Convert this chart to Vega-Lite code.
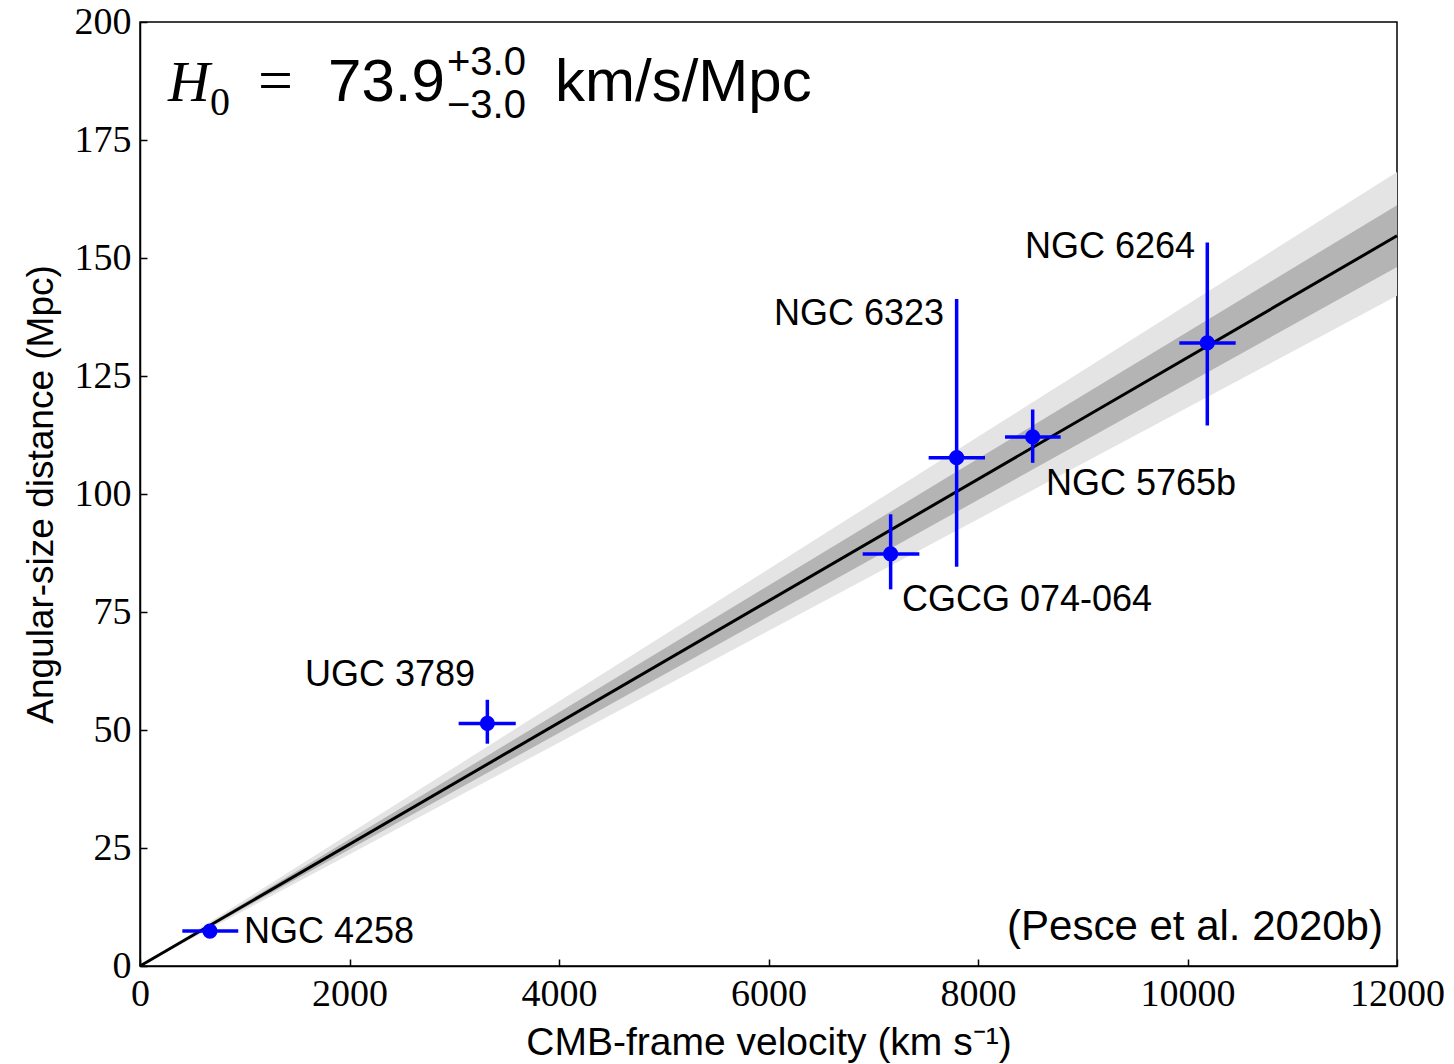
{
  "$schema": "https://vega.github.io/schema/vega-lite/v6.json",
  "width": 1257,
  "height": 944,
  "autosize": {"type": "none"},
  "padding": {"left": 140, "top": 22, "right": 57, "bottom": 98},
  "background": "white",
  "config": {
    "view": {"stroke": "#000", "strokeWidth": 1.5},
    "axis": {
      "grid": false,
      "domainColor": "#000",
      "domainWidth": 1.5,
      "tickColor": "#000",
      "tickWidth": 1.5,
      "tickSize": -7,
      "labelFont": "Liberation Serif",
      "labelFontSize": 38,
      "labelColor": "#000",
      "labelPadding": 16,
      "labelFlush": false,
      "labelOverlap": false,
      "titleFont": "Liberation Sans",
      "titleFontSize": 37,
      "titleFontWeight": "normal",
      "titleColor": "#000"
    }
  },
  "datasets": {
    "fit": [
      {"v": 0, "d": 0, "lo1": 0, "hi1": 0, "lo2": 0, "hi2": 0},
      {"v": 12000, "d": 154.7, "lo1": 142.0, "hi1": 168.2, "lo2": 148.1, "hi2": 161.2}
    ],
    "masers": [
      {"name": "NGC 4258", "v": 668, "v_lo": 404, "v_hi": 938, "d": 7.4, "d_lo": 7.25, "d_hi": 7.55},
      {"name": "UGC 3789", "v": 3316, "v_lo": 3042, "v_hi": 3587, "d": 51.4, "d_lo": 47.1, "d_hi": 56.4},
      {"name": "CGCG 074-064", "v": 7166, "v_lo": 6899, "v_hi": 7440, "d": 87.3, "d_lo": 79.8, "d_hi": 95.7},
      {"name": "NGC 6323", "v": 7796, "v_lo": 7529, "v_hi": 8067, "d": 107.7, "d_lo": 84.6, "d_hi": 141.3},
      {"name": "NGC 5765b", "v": 8522, "v_lo": 8258, "v_hi": 8789, "d": 112.1, "d_lo": 106.6, "d_hi": 117.9},
      {"name": "NGC 6264", "v": 10189, "v_lo": 9922, "v_hi": 10460, "d": 132.0, "d_lo": 114.5, "d_hi": 153.3}
    ],
    "labels": [
      {"name": "NGC 4258", "v": 1804, "d": 4.9},
      {"name": "UGC 3789", "v": 2387, "d": 59.4},
      {"name": "CGCG 074-064", "v": 8468, "d": 75.3},
      {"name": "NGC 6323", "v": 6864, "d": 135.7},
      {"name": "NGC 5765b", "v": 9556, "d": 99.8},
      {"name": "NGC 6264", "v": 9260, "d": 149.9}
    ]
  },
  "layer": [
    {
      "data": {"name": "fit"},
      "mark": {"type": "area", "color": "#e4e4e4", "opacity": 1},
      "encoding": {
        "x": {
          "field": "v", "type": "quantitative",
          "scale": {"domain": [0, 12000], "nice": false, "zero": true},
          "axis": {"title": "CMB-frame velocity (km s⁻¹)", "values": [0, 2000, 4000, 6000, 8000, 10000, 12000], "format": "d", "titlePadding": 10, "titleFontSize": 39}
        },
        "y": {
          "field": "lo1", "type": "quantitative",
          "scale": {"domain": [0, 200], "nice": false, "zero": true},
          "axis": {"title": "Angular-size distance (Mpc)", "values": [0, 25, 50, 75, 100, 125, 150, 175, 200], "format": "d", "titlePadding": 14}
        },
        "y2": {"field": "hi1"}
      }
    },
    {
      "data": {"name": "fit"},
      "mark": {"type": "area", "color": "#b4b4b4", "opacity": 1},
      "encoding": {
        "x": {"field": "v", "type": "quantitative"},
        "y": {"field": "lo2", "type": "quantitative"},
        "y2": {"field": "hi2"}
      }
    },
    {
      "data": {"name": "fit"},
      "mark": {"type": "line", "color": "#000", "strokeWidth": 3},
      "encoding": {
        "x": {"field": "v", "type": "quantitative"},
        "y": {"field": "d", "type": "quantitative"}
      }
    },
    {
      "data": {"name": "masers"},
      "mark": {"type": "rule", "color": "#0000ff", "strokeWidth": 3.5},
      "encoding": {
        "x": {"field": "v_lo", "type": "quantitative"},
        "x2": {"field": "v_hi"},
        "y": {"field": "d", "type": "quantitative"}
      }
    },
    {
      "data": {"name": "masers"},
      "mark": {"type": "rule", "color": "#0000ff", "strokeWidth": 3.5},
      "encoding": {
        "x": {"field": "v", "type": "quantitative"},
        "y": {"field": "d_lo", "type": "quantitative"},
        "y2": {"field": "d_hi"}
      }
    },
    {
      "data": {"name": "masers"},
      "mark": {"type": "point", "filled": true, "color": "#0000ff", "opacity": 1, "size": 230},
      "encoding": {
        "x": {"field": "v", "type": "quantitative"},
        "y": {"field": "d", "type": "quantitative"}
      }
    },
    {
      "data": {"name": "labels"},
      "mark": {"type": "text", "font": "Liberation Sans", "fontSize": 36, "color": "#000", "align": "center", "baseline": "alphabetic"},
      "encoding": {
        "x": {"field": "v", "type": "quantitative"},
        "y": {"field": "d", "type": "quantitative"},
        "text": {"field": "name"}
      }
    },
    {
      "data": {"values": [{"part": "H", "v": 267, "d": 183.2}]},
      "mark": {"type": "text", "font": "Liberation Serif", "fontStyle": "italic", "fontSize": 58, "color": "#000", "align": "left", "baseline": "alphabetic"},
      "encoding": {
        "x": {"field": "v", "type": "quantitative"},
        "y": {"field": "d", "type": "quantitative"},
        "text": {"field": "part"}
      }
    },
    {
      "data": {"values": [{"part": "=", "v": 1126, "d": 183.2}]},
      "mark": {"type": "text", "font": "Liberation Serif", "fontSize": 62, "color": "#000", "align": "left", "baseline": "alphabetic"},
      "encoding": {
        "x": {"field": "v", "type": "quantitative"},
        "y": {"field": "d", "type": "quantitative"},
        "text": {"field": "part"}
      }
    },
    {
      "data": {"values": [{"part": "0", "v": 668, "d": 180.2}]},
      "mark": {"type": "text", "font": "Liberation Serif", "fontSize": 40, "color": "#000", "align": "left", "baseline": "alphabetic"},
      "encoding": {
        "x": {"field": "v", "type": "quantitative"},
        "y": {"field": "d", "type": "quantitative"},
        "text": {"field": "part"}
      }
    },
    {
      "data": {"values": [{"part": "73.9", "v": 1795, "d": 183.2}, {"part": "km/s/Mpc", "v": 3962, "d": 183.2}]},
      "mark": {"type": "text", "font": "Liberation Sans", "fontSize": 60, "color": "#000", "align": "left", "baseline": "alphabetic"},
      "encoding": {
        "x": {"field": "v", "type": "quantitative"},
        "y": {"field": "d", "type": "quantitative"},
        "text": {"field": "part"}
      }
    },
    {
      "data": {"values": [{"part": "+3.0", "v": 2930, "d": 188.8}, {"part": "−3.0", "v": 2930, "d": 179.7}]},
      "mark": {"type": "text", "font": "Liberation Sans", "fontSize": 40, "color": "#000", "align": "left", "baseline": "alphabetic"},
      "encoding": {
        "x": {"field": "v", "type": "quantitative"},
        "y": {"field": "d", "type": "quantitative"},
        "text": {"field": "part"}
      }
    },
    {
      "data": {"values": [{"part": "(Pesce et al. 2020b)", "v": 11866, "d": 5.6}]},
      "mark": {"type": "text", "font": "Liberation Sans", "fontSize": 42, "color": "#000", "align": "right", "baseline": "alphabetic"},
      "encoding": {
        "x": {"field": "v", "type": "quantitative"},
        "y": {"field": "d", "type": "quantitative"},
        "text": {"field": "part"}
      }
    }
  ]
}
